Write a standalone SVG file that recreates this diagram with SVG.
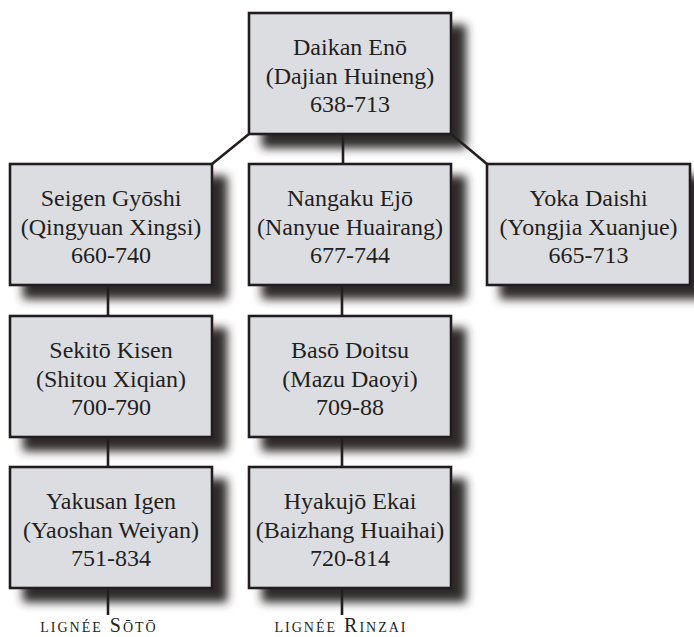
<svg xmlns="http://www.w3.org/2000/svg" width="694" height="637" viewBox="0 0 694 637">
<style>
.box{fill:#dcdde0;stroke:#231f20;stroke-width:2.6;filter:url(#sh)}
.t{font-family:"Liberation Serif","Tinos","DejaVu Serif","Times New Roman",serif;font-size:24px;fill:#231f20;text-anchor:middle}
.lab{font-family:"Liberation Serif","Tinos","DejaVu Serif","Times New Roman",serif;font-size:20px;fill:#231f20;text-anchor:middle;font-variant:small-caps;letter-spacing:2px}
.c{stroke:#231f20;stroke-width:2.6;fill:none}
</style>
<defs>
<filter id="sh" x="-10%" y="-10%" width="135%" height="150%">
<feDropShadow dx="14" dy="13" stdDeviation="5" flood-color="#2e2b2c" flood-opacity="1"/>
</filter>
</defs>
<rect width="694" height="637" fill="#ffffff"/>
<g id="daikan"><rect class="box" x="249" y="13" width="202" height="121"/>
<text class="t" x="350" y="55">Daikan Enō</text><text class="t" x="350" y="84">(Dajian Huineng)</text><text class="t" x="350" y="112">638-713</text></g>
<g id="seigen"><rect class="box" x="10" y="164" width="202" height="121"/>
<text class="t" x="111" y="206">Seigen Gyōshi</text><text class="t" x="111" y="235">(Qingyuan Xingsi)</text><text class="t" x="111" y="263">660-740</text></g>
<g id="nangaku"><rect class="box" x="249" y="164" width="202" height="121"/>
<text class="t" x="350" y="206">Nangaku Ejō</text><text class="t" x="350" y="235">(Nanyue Huairang)</text><text class="t" x="350" y="263">677-744</text></g>
<g id="yoka"><rect class="box" x="487" y="164" width="203" height="121"/>
<text class="t" x="588.5" y="206">Yoka Daishi</text><text class="t" x="588.5" y="235">(Yongjia Xuanjue)</text><text class="t" x="588.5" y="263">665-713</text></g>
<g id="sekito"><rect class="box" x="10" y="316" width="202" height="121"/>
<text class="t" x="111" y="358">Sekitō Kisen</text><text class="t" x="111" y="387">(Shitou Xiqian)</text><text class="t" x="111" y="415">700-790</text></g>
<g id="baso"><rect class="box" x="249" y="316" width="202" height="121"/>
<text class="t" x="350" y="358">Basō Doitsu</text><text class="t" x="350" y="387">(Mazu Daoyi)</text><text class="t" x="350" y="415">709-88</text></g>
<g id="yakusan"><rect class="box" x="10" y="467" width="202" height="121"/>
<text class="t" x="111" y="509">Yakusan Igen</text><text class="t" x="111" y="538">(Yaoshan Weiyan)</text><text class="t" x="111" y="566">751-834</text></g>
<g id="hyakujo"><rect class="box" x="249" y="467" width="202" height="121"/>
<text class="t" x="350" y="509">Hyakujō Ekai</text><text class="t" x="350" y="538">(Baizhang Huaihai)</text><text class="t" x="350" y="566">720-814</text></g>
<g id="connectors">
<path class="c" d="M249,134 L212,164"/>
<path class="c" d="M451,134 L487,164"/>
<path class="c" d="M343,134 V164"/>
<path class="c" d="M108,285 V316 M108,437 V467 M108,588 V615"/>
<path class="c" d="M342,285 V316 M342,437 V467 M342,588 V615"/>
</g>
<g id="labels">
<text class="lab" x="99" y="632">lignée Sōtō</text>
<text class="lab" x="341" y="632">lignée Rinzai</text>
</g>
</svg>
